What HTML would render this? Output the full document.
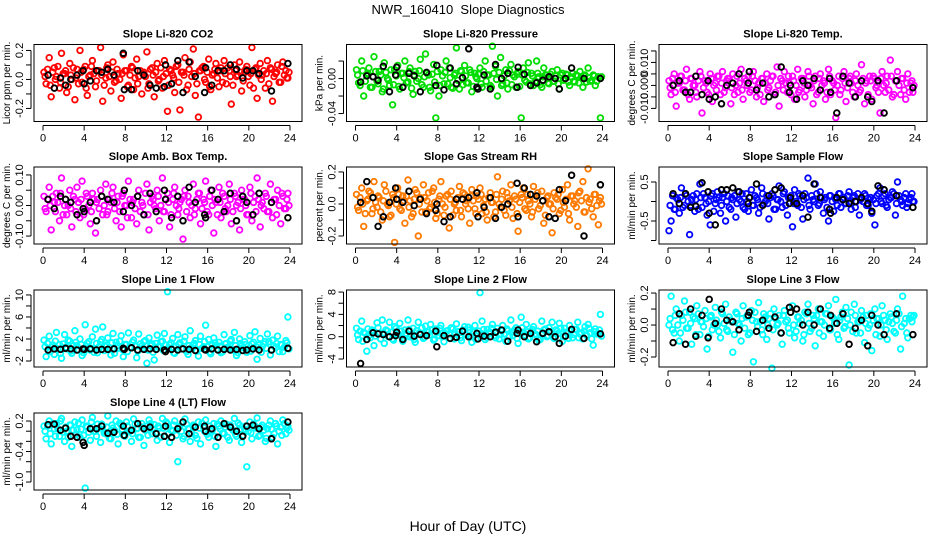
<!DOCTYPE html>
<html><head><meta charset="utf-8"><style>
html,body{margin:0;padding:0;background:#fff;}
svg{display:block;font-family:"Liberation Sans",sans-serif;}
</style></head><body>
<svg id="chart" width="936" height="540" viewBox="0 0 936 540">
<text x="468" y="14" text-anchor="middle" font-size="13">NWR_160410&#160; Slope Diagnostics</text>
<text x="468" y="531" text-anchor="middle" font-size="14">Hour of Day (UTC)</text>
</svg>
<script>
const hoursAll=[0.1,0.3,0.6,0.8,1.1,1.3,1.6,1.8,2.1,2.3,2.6,2.8,3.1,3.3,3.6,3.8,4.1,4.3,4.6,4.8,5.1,5.3,5.6,5.8,6.1,6.3,6.6,6.8,7.1,7.3,7.6,7.8,8.1,8.3,8.6,8.8,9.1,9.3,9.6,9.8,10.1,10.3,10.6,10.8,11.1,11.3,11.6,11.8,12.1,12.3,12.6,12.8,13.1,13.3,13.6,13.8,14.1,14.3,14.6,14.8,15.1,15.3,15.6,15.8,16.1,16.3,16.6,16.8,17.1,17.3,17.6,17.8,18.1,18.3,18.6,18.8,19.1,19.3,19.6,19.8,20.1,20.3,20.6,20.8,21.1,21.3,21.6,21.8,22.1,22.3,22.6,22.8,23.1,23.3,23.6,23.8];
const hoursAll2=[0.2,0.45,0.7,0.95,1.2,1.45,1.7,1.95,2.2,2.45,2.7,2.95,3.2,3.45,3.7,3.95,4.2,4.45,4.7,4.95,5.2,5.45,5.7,5.95,6.2,6.45,6.7,6.95,7.2,7.45,7.7,7.95,8.2,8.45,8.7,8.95,9.2,9.45,9.7,9.95,10.2,10.45,10.7,10.95,11.2,11.45,11.7,11.95,12.2,12.45,12.7,12.95,13.2,13.45,13.7,13.95,14.2,14.45,14.7,14.95,15.2,15.45,15.7,15.95,16.2,16.45,16.7,16.95,17.2,17.45,17.7,17.95,18.2,18.45,18.7,18.95,19.2,19.45,19.7,19.95,20.2,20.45,20.7,20.95,21.2,21.45,21.7,21.95,22.2,22.45,22.7,22.95,23.2,23.45,23.7,23.9];
const hoursRef=[0.5,1.1,1.7,2.2,2.7,3.3,3.9,4.0,4.6,5.2,5.7,6.3,6.9,7.8,7.9,8.6,9.2,9.8,10.4,11.0,11.8,11.9,12.5,13.1,13.6,14.2,14.8,15.7,15.8,16.4,17.0,17.6,18.2,18.8,19.4,19.8,20.4,21.0,22.2,23.8];
const xTicks=[0,4,8,12,16,20,24];

const co2All=[0.05,-0.03,0.15,-0.12,0.08,0.02,-0.06,0.18,0.04,-0.09,0.11,0.0,-0.14,0.07,0.20,-0.02,0.09,-0.11,0.03,0.13,-0.05,0.06,0.22,-0.15,0.01,0.10,-0.08,0.12,-0.01,0.04,-0.13,0.17,0.06,-0.04,0.09,-0.07,0.14,0.02,-0.10,0.05,0.19,-0.03,0.08,-0.12,0.11,0.0,-0.06,0.13,-0.22,0.07,0.03,-0.09,0.10,-0.21,0.05,0.15,-0.04,0.12,0.21,-0.11,-0.26,0.06,0.09,-0.02,0.14,-0.07,0.04,0.11,-0.05,0.08,0.13,-0.03,0.06,-0.17,0.10,0.02,0.12,-0.08,0.05,0.09,-0.04,0.22,0.07,-0.13,0.11,0.03,-0.06,0.13,0.08,-0.15,0.04,0.10,-0.02,0.12,0.06,0.01];
const co2All2=[0.02,0.07,-0.04,0.05,0.0,0.09,-0.02,0.04,0.06,-0.05,0.03,0.08,0.01,-0.03,0.05,0.07,-0.06,0.02,0.09,0.04,-0.01,0.06,0.03,-0.04,0.08,0.02,0.05,-0.02,0.07,0.0,0.04,0.06,-0.05,0.03,0.08,0.01,-0.03,0.06,0.04,0.02,-0.06,0.07,0.03,0.05,-0.01,0.08,0.02,0.04,-0.04,0.06,0.01,0.09,-0.02,0.05,0.03,-0.07,0.07,0.02,0.04,-0.03,0.06,0.08,0.0,0.05,-0.05,0.03,0.07,0.01,0.06,-0.02,0.04,0.08,0.02,-0.04,0.06,0.03,0.05,-0.01,0.07,0.02,0.04,-0.06,0.08,0.03,0.0,0.06,0.04,-0.03,0.07,0.02,0.05,-0.02,0.09,0.03,0.01,0.05];
const co2Ref=[0.03,-0.06,0.01,-0.04,0.0,0.03,0.06,-0.03,-0.01,0.06,0.05,0.07,0.03,0.18,-0.07,-0.07,0.06,0.03,-0.04,-0.06,-0.05,0.10,-0.03,0.13,-0.09,0.12,0.02,-0.09,0.08,-0.04,0.06,0.06,0.10,0.07,0.01,0.06,0.06,0.04,-0.08,0.11];
const presAll=[0.01,-0.005,0.02,-0.02,0.005,0.012,-0.01,0.025,-0.003,0.008,-0.015,0.018,0.0,-0.008,-0.03,0.01,0.015,-0.012,0.006,0.02,-0.004,0.012,-0.018,0.008,0.0,0.022,-0.01,0.028,0.004,-0.014,0.016,-0.045,-0.02,0.01,-0.006,0.02,0.012,-0.01,0.004,0.035,-0.012,0.008,0.015,-0.005,0.01,-0.015,0.006,0.0,0.012,-0.01,0.02,0.004,-0.008,0.037,0.014,-0.02,0.024,-0.006,0.01,-0.012,0.016,0.004,-0.01,0.008,-0.045,0.012,-0.004,0.018,0.006,-0.008,0.02,0.002,-0.01,0.012,0.004,-0.006,0.008,-0.003,0.01,-0.012,0.006,0.0,0.004,-0.008,0.006,-0.004,0.003,0.008,-0.01,0.004,0.012,-0.003,0.004,-0.008,0.002,-0.045];
const presAll2=[0.004,-0.008,0.009,-0.003,0.006,-0.01,0.002,0.008,-0.006,0.004,-0.012,0.007,-0.002,0.01,-0.007,0.003,-0.009,0.006,0.001,-0.005,0.008,-0.011,0.004,-0.003,0.009,-0.007,0.002,0.006,-0.01,0.005,-0.004,0.008,-0.008,0.003,0.007,-0.006,0.001,-0.011,0.006,-0.002,0.009,-0.007,0.003,-0.005,0.007,-0.009,0.002,0.005,-0.006,0.008,-0.003,0.004,-0.01,0.006,-0.001,0.007,-0.008,0.003,-0.005,0.009,-0.007,0.002,0.005,-0.009,0.004,-0.002,0.007,-0.006,0.003,-0.004,0.006,-0.007,0.002,0.004,-0.005,0.005,-0.003,0.003,-0.006,0.004,-0.002,0.005,-0.004,0.002,-0.003,0.004,-0.005,0.002,0.003,-0.004,0.001,-0.002,0.003,-0.003,0.001,0.002];
const presRef=[-0.004,0.003,0.002,-0.002,0.014,-0.015,0.004,0.013,-0.01,0.006,0.003,-0.015,0.007,-0.008,0.015,-0.013,0.012,-0.006,0.001,0.034,-0.01,-0.012,0.004,-0.012,0.016,0.0,0.006,-0.01,0.013,0.005,-0.008,-0.005,-0.002,0.002,0.0,-0.012,0.0,0.012,0.0,0.0];
const tempAll=[0.002,-0.004,0.005,-0.009,0.001,0.004,-0.002,0.007,-0.006,0.003,0.0,-0.005,0.006,-0.012,0.002,-0.003,0.005,-0.007,0.001,0.004,-0.004,0.006,-0.001,0.003,-0.008,0.005,0.0,-0.003,0.007,-0.006,0.002,0.004,-0.002,0.006,-0.005,0.001,0.003,-0.007,0.005,-0.001,0.004,-0.004,0.008,-0.009,0.002,0.006,-0.003,0.001,0.004,-0.006,0.007,-0.002,0.003,-0.005,0.006,0.0,-0.008,0.004,-0.003,0.005,0.002,-0.006,0.007,-0.004,0.001,-0.014,0.004,-0.002,0.006,-0.007,0.003,0.001,-0.005,0.005,-0.003,0.009,-0.008,0.002,0.004,-0.006,0.003,0.0,-0.012,0.006,-0.003,0.004,0.011,-0.005,0.002,0.006,-0.004,0.003,-0.006,0.005,0.001,-0.003];
const tempAll2=[-0.001,0.003,-0.003,0.001,0.004,-0.002,0.002,-0.004,0.003,0.0,-0.003,0.002,0.004,-0.001,0.001,-0.004,0.003,0.0,-0.002,0.004,0.001,-0.003,0.002,0.003,-0.001,-0.004,0.004,0.001,-0.002,0.003,0.0,-0.003,0.004,0.002,-0.001,-0.004,0.003,0.001,-0.002,0.002,0.004,-0.003,0.0,0.003,-0.002,0.001,0.004,-0.004,0.002,0.0,-0.003,0.003,0.001,-0.002,0.004,-0.001,0.002,-0.004,0.003,0.0,0.001,-0.003,0.004,0.002,-0.002,0.0,-0.004,0.003,0.001,-0.001,0.004,-0.003,0.002,0.0,-0.002,0.003,0.001,-0.004,0.002,0.004,-0.001,-0.003,0.003,0.0,0.001,-0.002,0.004,-0.004,0.002,0.0,0.003,-0.002,0.001,-0.003,0.002,0.0];
const tempRef=[0.0,0.002,-0.003,-0.003,0.004,-0.004,0.002,-0.006,-0.005,-0.008,0.0,0.001,0.005,0.001,0.006,-0.002,0.001,-0.005,-0.004,0.008,-0.003,0.0,-0.006,0.002,0.0,0.003,-0.002,0.003,-0.003,-0.012,0.004,0.001,-0.005,0.002,-0.005,-0.007,0.002,-0.012,0.002,-0.001];
const ambAll=[0.03,-0.02,0.06,-0.08,0.01,0.04,-0.05,0.09,0.0,-0.03,0.05,-0.07,0.02,0.06,-0.04,0.08,-0.01,0.03,-0.06,0.04,-0.09,0.02,0.05,-0.03,0.07,-0.02,0.01,0.06,-0.05,0.03,-0.07,0.04,0.0,0.08,-0.04,0.02,-0.06,0.05,0.01,-0.03,0.07,-0.08,0.03,0.0,0.05,-0.05,0.09,-0.02,0.04,-0.07,0.02,0.06,-0.03,0.01,-0.11,0.05,0.03,-0.04,0.07,-0.01,0.04,-0.06,0.02,0.08,-0.03,0.05,-0.09,0.01,0.06,-0.04,0.03,-0.02,0.07,-0.06,0.04,0.0,-0.08,0.05,0.02,-0.03,0.06,-0.05,0.03,0.09,-0.07,0.01,0.04,-0.02,0.07,-0.04,0.02,0.05,-0.06,0.03,-0.01,0.04];
const ambAll2=[-0.01,0.02,0.0,0.03,-0.02,0.01,0.04,-0.03,0.02,0.0,-0.01,0.03,-0.02,0.01,0.02,-0.03,0.04,0.0,-0.02,0.02,0.01,-0.01,0.03,0.0,-0.03,0.02,0.04,-0.01,0.01,-0.02,0.03,0.0,-0.04,0.02,0.01,-0.01,0.03,-0.02,0.0,0.04,-0.03,0.01,0.02,-0.01,0.03,0.0,-0.02,0.02,0.01,-0.03,0.04,0.0,-0.01,0.02,0.03,-0.02,0.01,0.0,-0.03,0.02,0.04,-0.01,0.01,-0.02,0.03,0.0,0.02,-0.03,0.01,0.04,-0.01,0.0,0.02,-0.02,0.03,0.01,-0.01,0.02,0.0,-0.03,0.04,0.01,-0.02,0.02,0.0,-0.01,0.03,-0.02,0.01,0.02,-0.03,0.0,0.04,-0.01,0.02,0.0];
const ambRef=[0.02,-0.01,0.03,0.02,0.01,-0.03,-0.01,-0.02,0.01,-0.05,0.03,0.02,0.01,-0.02,0.05,0.0,0.03,-0.03,0.04,-0.02,0.05,0.02,-0.04,0.03,-0.05,0.06,0.01,-0.03,-0.04,0.05,0.02,-0.02,0.04,-0.05,0.03,0.01,-0.03,0.04,0.01,-0.04];
const rhAll=[0.06,-0.04,0.1,-0.14,0.02,0.08,-0.06,0.14,-0.02,0.04,-0.1,0.12,0.0,-0.08,0.06,-0.24,0.1,-0.03,0.05,-0.12,0.15,0.02,-0.06,0.09,-0.2,0.04,0.12,-0.05,0.07,-0.02,0.1,-0.09,0.03,0.14,-0.07,0.05,-0.15,0.08,0.0,-0.04,0.11,-0.08,0.06,0.02,-0.12,0.09,-0.03,0.05,0.1,-0.06,0.03,-0.1,0.07,0.01,-0.05,0.17,-0.02,0.08,-0.07,0.04,0.12,-0.09,0.03,-0.17,0.06,0.1,-0.04,0.02,-0.08,0.11,0.05,-0.03,0.08,-0.12,0.04,0.0,-0.18,0.07,0.03,-0.06,0.09,-0.02,0.12,-0.1,0.05,0.02,-0.14,0.08,0.14,-0.05,0.22,0.03,-0.08,0.06,-0.13,0.04];
const rhAll2=[-0.02,0.04,0.0,-0.06,0.03,0.07,-0.03,0.01,0.05,-0.05,0.02,0.08,-0.01,-0.07,0.04,0.0,0.06,-0.04,0.02,0.05,-0.02,-0.08,0.03,0.07,0.0,-0.05,0.04,0.02,-0.03,0.08,0.01,-0.06,0.05,0.0,-0.02,0.06,0.03,-0.07,0.01,0.04,-0.04,0.07,0.0,-0.03,0.05,0.02,-0.06,0.03,0.06,-0.01,-0.05,0.04,0.01,-0.08,0.06,0.0,0.03,-0.04,0.07,0.02,-0.02,0.05,-0.06,0.01,0.04,-0.03,0.06,0.0,-0.05,0.03,0.07,-0.01,0.02,-0.07,0.05,0.0,-0.03,0.04,0.06,-0.04,0.01,0.03,-0.06,0.05,0.0,-0.02,0.07,0.02,-0.05,0.04,0.01,-0.03,0.06,-0.01,0.02,0.0];
const rhRef=[0.01,0.14,0.04,-0.14,-0.08,0.01,0.1,0.03,0.01,0.08,-0.01,0.03,-0.06,-0.04,0.0,-0.11,-0.08,0.03,0.03,0.04,0.07,-0.08,-0.02,0.04,-0.09,-0.02,0.0,0.13,-0.08,0.1,0.06,0.05,0.02,-0.08,-0.09,0.09,0.02,0.18,-0.2,0.12];
const sampAll=[-0.75,-0.5,-0.2,0.1,-0.3,0.35,-0.1,0.15,-0.85,0.05,-0.25,0.2,0.45,-0.15,0.1,-0.35,-0.6,0.2,-0.05,0.25,-0.3,0.1,-0.5,0.15,-0.2,0.05,-0.4,0.25,0.0,-0.15,0.2,-0.25,0.3,-0.1,0.1,-0.3,0.35,-0.05,0.15,-0.45,0.2,-0.2,0.05,0.4,-0.15,0.25,-0.35,0.1,-0.65,0.3,-0.1,0.15,-0.45,0.2,0.6,-0.2,0.05,0.45,-0.1,0.25,-0.3,0.1,-0.5,0.15,-0.25,0.05,0.2,-0.15,0.1,-0.05,0.25,-0.2,0.15,0.0,-0.35,0.1,0.2,-0.1,0.05,-0.3,-0.6,0.15,0.35,-0.05,0.2,-0.15,0.1,0.25,-0.35,0.5,0.05,-0.1,0.2,-0.05,0.1,0.0];
const sampAll2=[-0.1,0.15,-0.2,0.05,0.1,-0.15,0.2,0.0,-0.1,0.15,0.05,-0.2,0.1,0.2,-0.05,0.0,0.15,-0.25,0.05,0.1,-0.1,0.2,0.0,-0.15,0.1,0.15,-0.05,0.05,0.2,-0.2,0.0,0.1,-0.1,0.15,0.05,-0.15,0.2,0.0,-0.05,0.1,0.15,-0.2,0.05,0.0,0.2,-0.1,0.1,0.15,-0.05,0.0,0.2,-0.15,0.05,0.1,-0.1,0.15,0.0,0.2,-0.05,0.1,0.05,-0.15,0.15,0.0,0.1,-0.1,0.2,0.05,-0.05,0.15,0.0,0.1,-0.15,0.2,0.05,0.0,0.15,-0.1,0.1,0.05,-0.05,0.2,0.0,0.15,-0.1,0.05,0.1,0.2,-0.05,0.15,0.0,0.1,-0.15,0.05,0.2,0.0];
const sampRef=[0.2,-0.05,0.2,-0.15,-0.12,0.48,0.25,-0.3,-0.6,0.3,0.3,0.35,0.25,-0.05,0.1,0.45,-0.1,0.15,0.3,0.35,-0.05,0.1,-0.05,0.15,-0.4,0.45,0.1,-0.2,-0.3,0.1,0.05,-0.05,0.0,0.1,-0.05,-0.25,0.4,0.3,0.15,-0.15];
const l1All=[1.8,-1.2,2.5,0.5,-0.8,3.2,1.0,-1.5,2.8,0.2,1.6,-0.6,3.5,0.8,2.0,-1.0,4.6,1.2,0.0,2.4,3.8,-0.5,1.5,4.2,0.6,2.2,-0.9,3.0,1.4,0.3,2.6,-1.2,1.0,3.1,0.4,1.8,-1.4,2.9,0.7,1.5,-2.4,2.2,1.1,-1.8,2.7,0.5,1.6,3.0,10.6,0.9,2.1,-0.6,2.8,1.3,0.2,2.4,-0.8,3.5,1.0,1.7,-1.1,2.5,0.6,4.5,1.9,-0.7,2.2,0.8,1.4,-0.5,2.8,1.2,0.3,1.9,3.2,-1.0,2.0,0.7,1.5,-0.4,2.6,1.1,3.3,-1.7,2.1,0.6,1.5,2.9,-0.9,1.8,0.4,2.5,1.0,-0.3,1.7,6.0];
const l1All2=[0.6,1.2,-0.3,0.9,1.6,0.2,-0.6,1.1,0.5,1.8,-0.2,0.8,1.4,0.0,1.0,-0.5,0.7,1.5,0.3,-0.4,1.2,0.6,1.9,-0.1,0.9,0.4,1.3,-0.6,0.8,1.6,0.1,1.0,-0.3,0.5,1.4,0.7,-0.2,1.1,0.3,1.7,0.0,0.8,-0.4,1.2,0.6,1.5,-0.1,0.9,0.4,1.3,-0.5,0.7,1.0,0.2,1.6,-0.3,0.8,0.5,1.2,-0.2,1.0,0.3,1.5,0.6,-0.4,0.9,1.3,0.1,0.7,-0.3,1.1,0.5,1.6,0.0,0.8,-0.5,1.2,0.4,1.0,0.2,-0.2,1.4,0.6,0.9,-0.4,1.1,0.3,1.5,0.0,0.7,1.2,-0.3,0.9,0.5,1.3,0.2];
const l1Ref=[0.0,0.2,0.1,0.3,0.2,0.0,0.2,0.1,0.2,0.0,0.1,0.1,0.2,0.3,0.1,0.4,0.0,0.1,0.2,0.1,0.0,-0.3,0.1,0.0,0.2,0.1,-0.1,0.1,0.0,0.2,0.0,0.1,0.0,0.1,-0.1,0.0,0.2,0.0,0.0,0.3];
const l2All=[1.5,-0.5,2.8,0.8,-2.6,0.2,1.2,-1.6,2.5,0.5,3.0,-1.2,1.0,2.6,-0.4,1.8,0.3,2.4,-0.8,1.2,3.0,0.0,1.5,-1.0,2.6,0.6,-0.3,1.9,0.8,2.2,-0.6,1.4,0.2,2.0,-0.9,1.0,0.5,1.6,-0.4,2.3,0.9,-0.7,1.8,0.3,1.2,-1.0,2.0,0.6,7.9,2.8,-0.5,1.3,0.8,2.2,-0.2,1.5,0.4,2.0,-0.8,1.1,3.0,0.2,1.6,-1.2,3.5,0.8,2.2,-0.4,1.0,1.8,0.3,-0.6,2.8,1.2,0.0,1.6,2.6,-0.3,1.0,2.4,-0.8,1.5,0.6,2.0,-0.2,1.3,2.6,0.5,-0.4,1.8,2.2,0.7,-1.5,1.4,0.6,4.0];
const l2All2=[0.3,1.0,-0.8,0.6,1.4,-0.2,0.9,0.1,1.6,-0.4,0.7,1.2,0.0,0.8,-0.6,1.5,0.4,1.0,-0.3,0.6,1.3,0.2,-0.5,1.1,0.7,1.6,-0.1,0.9,0.3,1.2,-0.4,0.8,1.5,0.0,0.6,1.1,-0.3,1.4,0.5,0.9,-0.2,1.2,0.4,1.7,0.1,0.8,-0.5,1.0,0.6,1.3,-0.1,0.7,1.5,0.2,0.9,-0.4,1.1,0.5,1.4,0.0,0.8,1.2,-0.3,0.6,1.6,0.3,0.9,-0.2,1.3,0.5,1.0,-0.5,0.7,1.4,0.2,0.9,-0.1,1.2,0.6,1.5,0.0,0.8,-0.3,1.1,0.4,1.3,-0.2,0.7,1.0,0.3,1.5,-0.4,0.9,0.5,1.2,0.1];
const l2Ref=[-4.8,-0.5,0.7,0.5,0.4,0.0,0.2,0.8,-0.5,1.0,0.1,0.4,0.2,1.0,-1.8,0.2,-0.3,-0.1,1.0,0.0,0.6,-0.4,0.1,0.0,0.8,1.2,-0.8,0.6,1.2,0.0,0.6,-0.9,0.6,0.9,0.0,-1.2,0.1,1.3,-0.3,0.5];
const l3All=[0.0,0.18,-0.05,0.1,-0.1,0.06,0.15,-0.02,0.08,-0.12,0.04,0.12,-0.06,0.02,0.09,-0.15,0.05,-0.03,0.11,0.0,-0.08,0.07,0.13,-0.04,0.03,-0.17,0.08,0.01,-0.1,0.12,0.05,-0.06,0.09,-0.23,0.02,0.14,-0.03,0.07,-0.09,0.04,-0.27,0.1,0.0,0.06,-0.12,0.09,0.03,-0.05,0.12,-0.08,0.05,0.01,-0.1,0.08,0.13,-0.04,0.06,-0.13,0.1,0.02,-0.07,0.07,0.12,-0.03,0.04,0.16,-0.09,0.05,-0.02,0.11,-0.25,0.08,0.13,-0.05,0.02,0.09,-0.11,0.06,0.0,-0.16,0.1,0.04,-0.07,0.12,0.03,-0.09,0.07,0.01,-0.05,0.1,-0.15,0.18,0.04,-0.08,0.06,0.05];
const l3All2=[0.04,-0.03,0.06,0.0,-0.05,0.03,0.08,-0.02,0.01,0.05,-0.06,0.07,0.02,-0.01,0.04,-0.07,0.06,0.0,0.03,-0.04,0.08,0.01,-0.03,0.05,0.02,-0.06,0.07,0.0,0.04,-0.02,0.06,-0.05,0.03,0.08,-0.01,0.02,-0.06,0.05,0.0,0.07,-0.03,0.04,0.01,-0.05,0.06,0.02,-0.02,0.08,0.0,-0.04,0.05,0.03,-0.06,0.07,0.01,-0.02,0.04,0.06,-0.05,0.02,0.0,0.07,-0.03,0.05,0.01,-0.06,0.03,0.08,-0.01,0.04,0.0,-0.04,0.06,0.02,-0.05,0.05,0.01,-0.02,0.07,0.03,-0.06,0.04,0.0,0.06,-0.03,0.02,0.05,-0.04,0.03,0.07,-0.01,0.01,-0.05,0.04,0.02,0.06];
const l3Ref=[-0.11,0.07,-0.12,0.1,-0.07,0.06,-0.08,0.16,0.01,0.1,0.03,0.02,-0.03,0.06,0.08,-0.04,0.03,-0.02,0.05,-0.05,0.11,0.08,0.1,0.0,0.08,0.0,0.1,-0.02,0.06,0.01,0.07,-0.12,-0.02,0.03,-0.13,0.06,0.0,-0.06,0.07,-0.06];
const l4All=[0.1,-0.15,0.2,-0.25,0.05,0.15,-0.1,0.25,-0.2,0.0,0.12,-0.3,0.18,0.03,-0.12,0.22,-1.12,0.08,-0.18,0.27,0.0,0.14,-0.22,0.1,-0.05,0.3,-0.15,0.06,0.2,-0.25,0.12,-0.08,0.18,0.0,-0.2,0.24,0.05,-0.12,0.15,-0.28,0.1,0.22,-0.05,0.13,-0.18,0.06,0.25,-0.1,0.15,-0.22,0.0,0.2,-0.6,0.1,-0.15,0.24,0.05,-0.2,0.12,-0.08,0.18,-0.25,0.08,0.22,-0.12,0.0,0.15,-0.3,0.1,0.2,-0.05,0.14,-0.18,0.06,0.25,-0.1,0.12,-0.22,0.04,-0.7,0.18,-0.15,0.1,0.26,-0.08,0.12,-0.2,0.05,0.2,-0.12,0.15,-0.25,0.08,0.22,-0.05,0.1];
const l4All2=[0.0,0.1,-0.05,0.15,-0.1,0.05,0.2,-0.02,0.08,-0.12,0.12,0.02,-0.06,0.16,0.04,-0.08,0.1,-0.02,0.18,0.0,-0.1,0.06,0.14,-0.04,0.08,-0.14,0.12,0.02,-0.06,0.16,0.04,-0.1,0.1,0.0,-0.05,0.14,0.06,-0.12,0.08,0.02,-0.08,0.15,0.04,-0.03,0.1,-0.12,0.06,0.18,-0.05,0.02,0.12,-0.08,0.08,0.0,-0.1,0.14,0.04,-0.04,0.1,-0.14,0.06,0.16,0.0,-0.06,0.1,0.02,-0.1,0.14,0.05,-0.04,0.08,-0.12,0.12,0.02,-0.06,0.16,0.04,-0.08,0.1,0.0,-0.03,0.14,0.06,-0.1,0.08,0.02,-0.14,0.12,0.04,-0.05,0.1,0.0,-0.08,0.15,0.06,0.02];
const l4Ref=[0.13,0.14,0.02,0.06,-0.1,-0.12,-0.22,-0.28,0.05,0.05,0.1,-0.04,-0.02,0.1,-0.08,0.02,0.15,0.05,0.08,-0.05,-0.1,0.1,-0.12,0.05,0.18,-0.05,0.08,0.1,0.0,0.05,-0.12,0.15,0.08,0.0,-0.1,0.1,0.12,0.05,-0.15,0.18];

const co2Ticks=[-0.2,-0.1,0,0.1,0.2], co2Labels=["-0.2","","0.0","","0.2"];
const presTicks=[-0.04,-0.02,0,0.02], presLabels=["-0.04","","0.00",""];
const tempTicks=[-0.010,-0.005,0,0.005,0.010,0.015], tempLabels=["-0.010","","0.000","","0.010",""];
const ambTicks=[-0.10,-0.05,0,0.05,0.10], ambLabels=["-0.10","","0.00","","0.10"];
const rhTicks=[-0.2,-0.1,0,0.1,0.2], rhLabels=["-0.2","","0.0","","0.2"];
const sampTicks=[-1.0,-0.5,0,0.5], sampLabels=["","-0.5","","0.5"];
const l1Ticks=[-2,0,2,4,6,8,10], l1Labels=["-2","","2","","6","","10"];
const l2Ticks=[-4,-2,0,2,4,6,8], l2Labels=["-4","","0","","4","","8"];
const l3Ticks=[-0.2,-0.1,0,0.1,0.2], l3Labels=["-0.2","","0.0","","0.2"];
const l4Ticks=[-1.0,-0.8,-0.6,-0.4,-0.2,0,0.2], l4Labels=["-1.0","","","-0.4","","","0.2"];

const NS="http://www.w3.org/2000/svg";
const svg=document.getElementById('chart');
function mk(tag,attrs,parent){const e=document.createElementNS(NS,tag);for(const k in attrs)e.setAttribute(k,attrs[k]);(parent||svg).appendChild(e);return e;}

const colL=[34,346.5,659], rowT=[44.5,167,290,413], W=268, H=77;
const panels=[
 {name:'co2',title:'Slope Li-820 CO2',ylab:'Licor ppm per min.',col:'#ff0000',c:0,r:0,ymin:-0.290,ymax:0.241,all:co2All,all2:co2All2,ref:co2Ref,ticks:co2Ticks,labels:co2Labels},
 {name:'pressure',title:'Slope Li-820 Pressure',ylab:'kPa per min.',col:'#00dd00',c:1,r:0,ymin:-0.0491,ymax:0.0389,all:presAll,all2:presAll2,ref:presRef,ticks:presTicks,labels:presLabels},
 {name:'temp',title:'Slope Li-820 Temp.',ylab:'degrees C per min.',col:'#ff00ff',c:2,r:0,ymin:-0.0157,ymax:0.0178,all:tempAll,all2:tempAll2,ref:tempRef,ticks:tempTicks,labels:tempLabels},
 {name:'amb-box-temp',title:'Slope Amb. Box Temp.',ylab:'degrees C per min.',col:'#ff00ff',c:0,r:1,ymin:-0.126,ymax:0.126,all:ambAll,all2:ambAll2,ref:ambRef,ticks:ambTicks,labels:ambLabels},
 {name:'gas-stream-rh',title:'Slope Gas Stream RH',ylab:'percent per min.',col:'#ff7a00',c:1,r:1,ymin:-0.25,ymax:0.231,all:rhAll,all2:rhAll2,ref:rhRef,ticks:rhTicks,labels:rhLabels},
 {name:'sample-flow',title:'Slope Sample Flow',ylab:'ml/min per min.',col:'#0000ff',c:2,r:1,ymin:-1.09,ymax:0.885,all:sampAll,all2:sampAll2,ref:sampRef,ticks:sampTicks,labels:sampLabels},
 {name:'line1-flow',title:'Slope Line 1 Flow',ylab:'ml/min per min.',col:'#00ffff',c:0,r:2,ymin:-3.09,ymax:10.9,all:l1All,all2:l1All2,ref:l1Ref,ticks:l1Ticks,labels:l1Labels},
 {name:'line2-flow',title:'Slope Line 2 Flow',ylab:'ml/min per min.',col:'#00ffff',c:1,r:2,ymin:-5.43,ymax:8.37,all:l2All,all2:l2All2,ref:l2Ref,ticks:l2Ticks,labels:l2Labels},
 {name:'line3-flow',title:'Slope Line 3 Flow',ylab:'ml/min per min.',col:'#00ffff',c:2,r:2,ymin:-0.2625,ymax:0.219,all:l3All,all2:l3All2,ref:l3Ref,ticks:l3Ticks,labels:l3Labels},
 {name:'line4-flow',title:'Slope Line 4 (LT) Flow',ylab:'ml/min per min.',col:'#00ffff',c:0,r:3,ymin:-1.157,ymax:0.358,all:l4All,all2:l4All2,ref:l4Ref,ticks:l4Ticks,labels:l4Labels}
];

panels.forEach(p=>{
 const L=colL[p.c], T=rowT[p.r], B=T+H;
 const xs=h=>L+9+h/24*247;
 const ys=v=>B-(v-p.ymin)/(p.ymax-p.ymin)*H;
 const g=mk('g',{});
 
 
 const t=mk('text',{x:L+W/2,y:T-7,'text-anchor':'middle','font-size':'11','font-weight':'bold'},g);
 t.textContent=p.title;
 
 
 const yl=mk('text',{x:0,y:0,'text-anchor':'middle','font-size':'10',transform:`translate(${L-24},${T+H/2}) rotate(-90)`},g);
 yl.textContent=p.ylab;
 
 
 const pg=mk('g',{fill:'none',stroke:p.col,'stroke-width':'1.8'},g);
 
 
 const n=Math.min(hoursAll.length,p.all.length);
 for(let i=0;i<n;i++){
  const c=mk('circle',{cx:xs(hoursAll[i]).toFixed(1),cy:ys(p.all[i]).toFixed(1),r:'2.8'},pg);
  
  
 }
 const n2=Math.min(hoursAll2.length,p.all2.length);
 for(let i=0;i<n2;i++){
  const c=mk('circle',{cx:xs(hoursAll2[i]).toFixed(1),cy:ys(p.all2[i]).toFixed(1),r:'2.8'},pg);
  
  
 }
 const bg=mk('g',{fill:'none',stroke:'#000','stroke-width':'1.9'},g);
 
 
 const m=Math.min(hoursRef.length,p.ref.length);
 for(let i=0;i<m;i++){
  const c=mk('circle',{cx:xs(hoursRef[i]).toFixed(1),cy:ys(p.ref[i]).toFixed(1),r:'2.8'},bg);
  
  
 }
 const fr=mk('rect',{x:L,y:T,width:W,height:H,fill:'none',stroke:'#000','stroke-width':'1'},g);
 
 
 const xa=mk('g',{stroke:'#000','stroke-width':'1'},g);
 
 
 mk('line',{x1:xs(xTicks[0]),x2:xs(xTicks[xTicks.length-1]),y1:B+4,y2:B+4},xa);
 xTicks.forEach(h=>{
  mk('line',{x1:xs(h),x2:xs(h),y1:B+4,y2:B+9},xa);
  const tl=mk('text',{x:xs(h),y:B+20,'text-anchor':'middle','font-size':'11',stroke:'none',fill:'#000'},xa);
  tl.textContent=String(h);
  
  
 });
 const ya=mk('g',{stroke:'#000','stroke-width':'1'},g);
 
 
 mk('line',{x1:L-3,x2:L-3,y1:ys(p.ticks[0]),y2:ys(p.ticks[p.ticks.length-1])},ya);
 p.ticks.forEach((v,i)=>{
  mk('line',{x1:L-3,x2:L-8,y1:ys(v),y2:ys(v)},ya);
  if(p.labels[i]){
   const tl=mk('text',{x:0,y:0,'text-anchor':'middle','font-size':'11',stroke:'none',fill:'#000',transform:`translate(${L-11},${ys(v)}) rotate(-90)`},ya);
   tl.textContent=p.labels[i];
   
   
  }
 });
});
</script>
</body></html>
